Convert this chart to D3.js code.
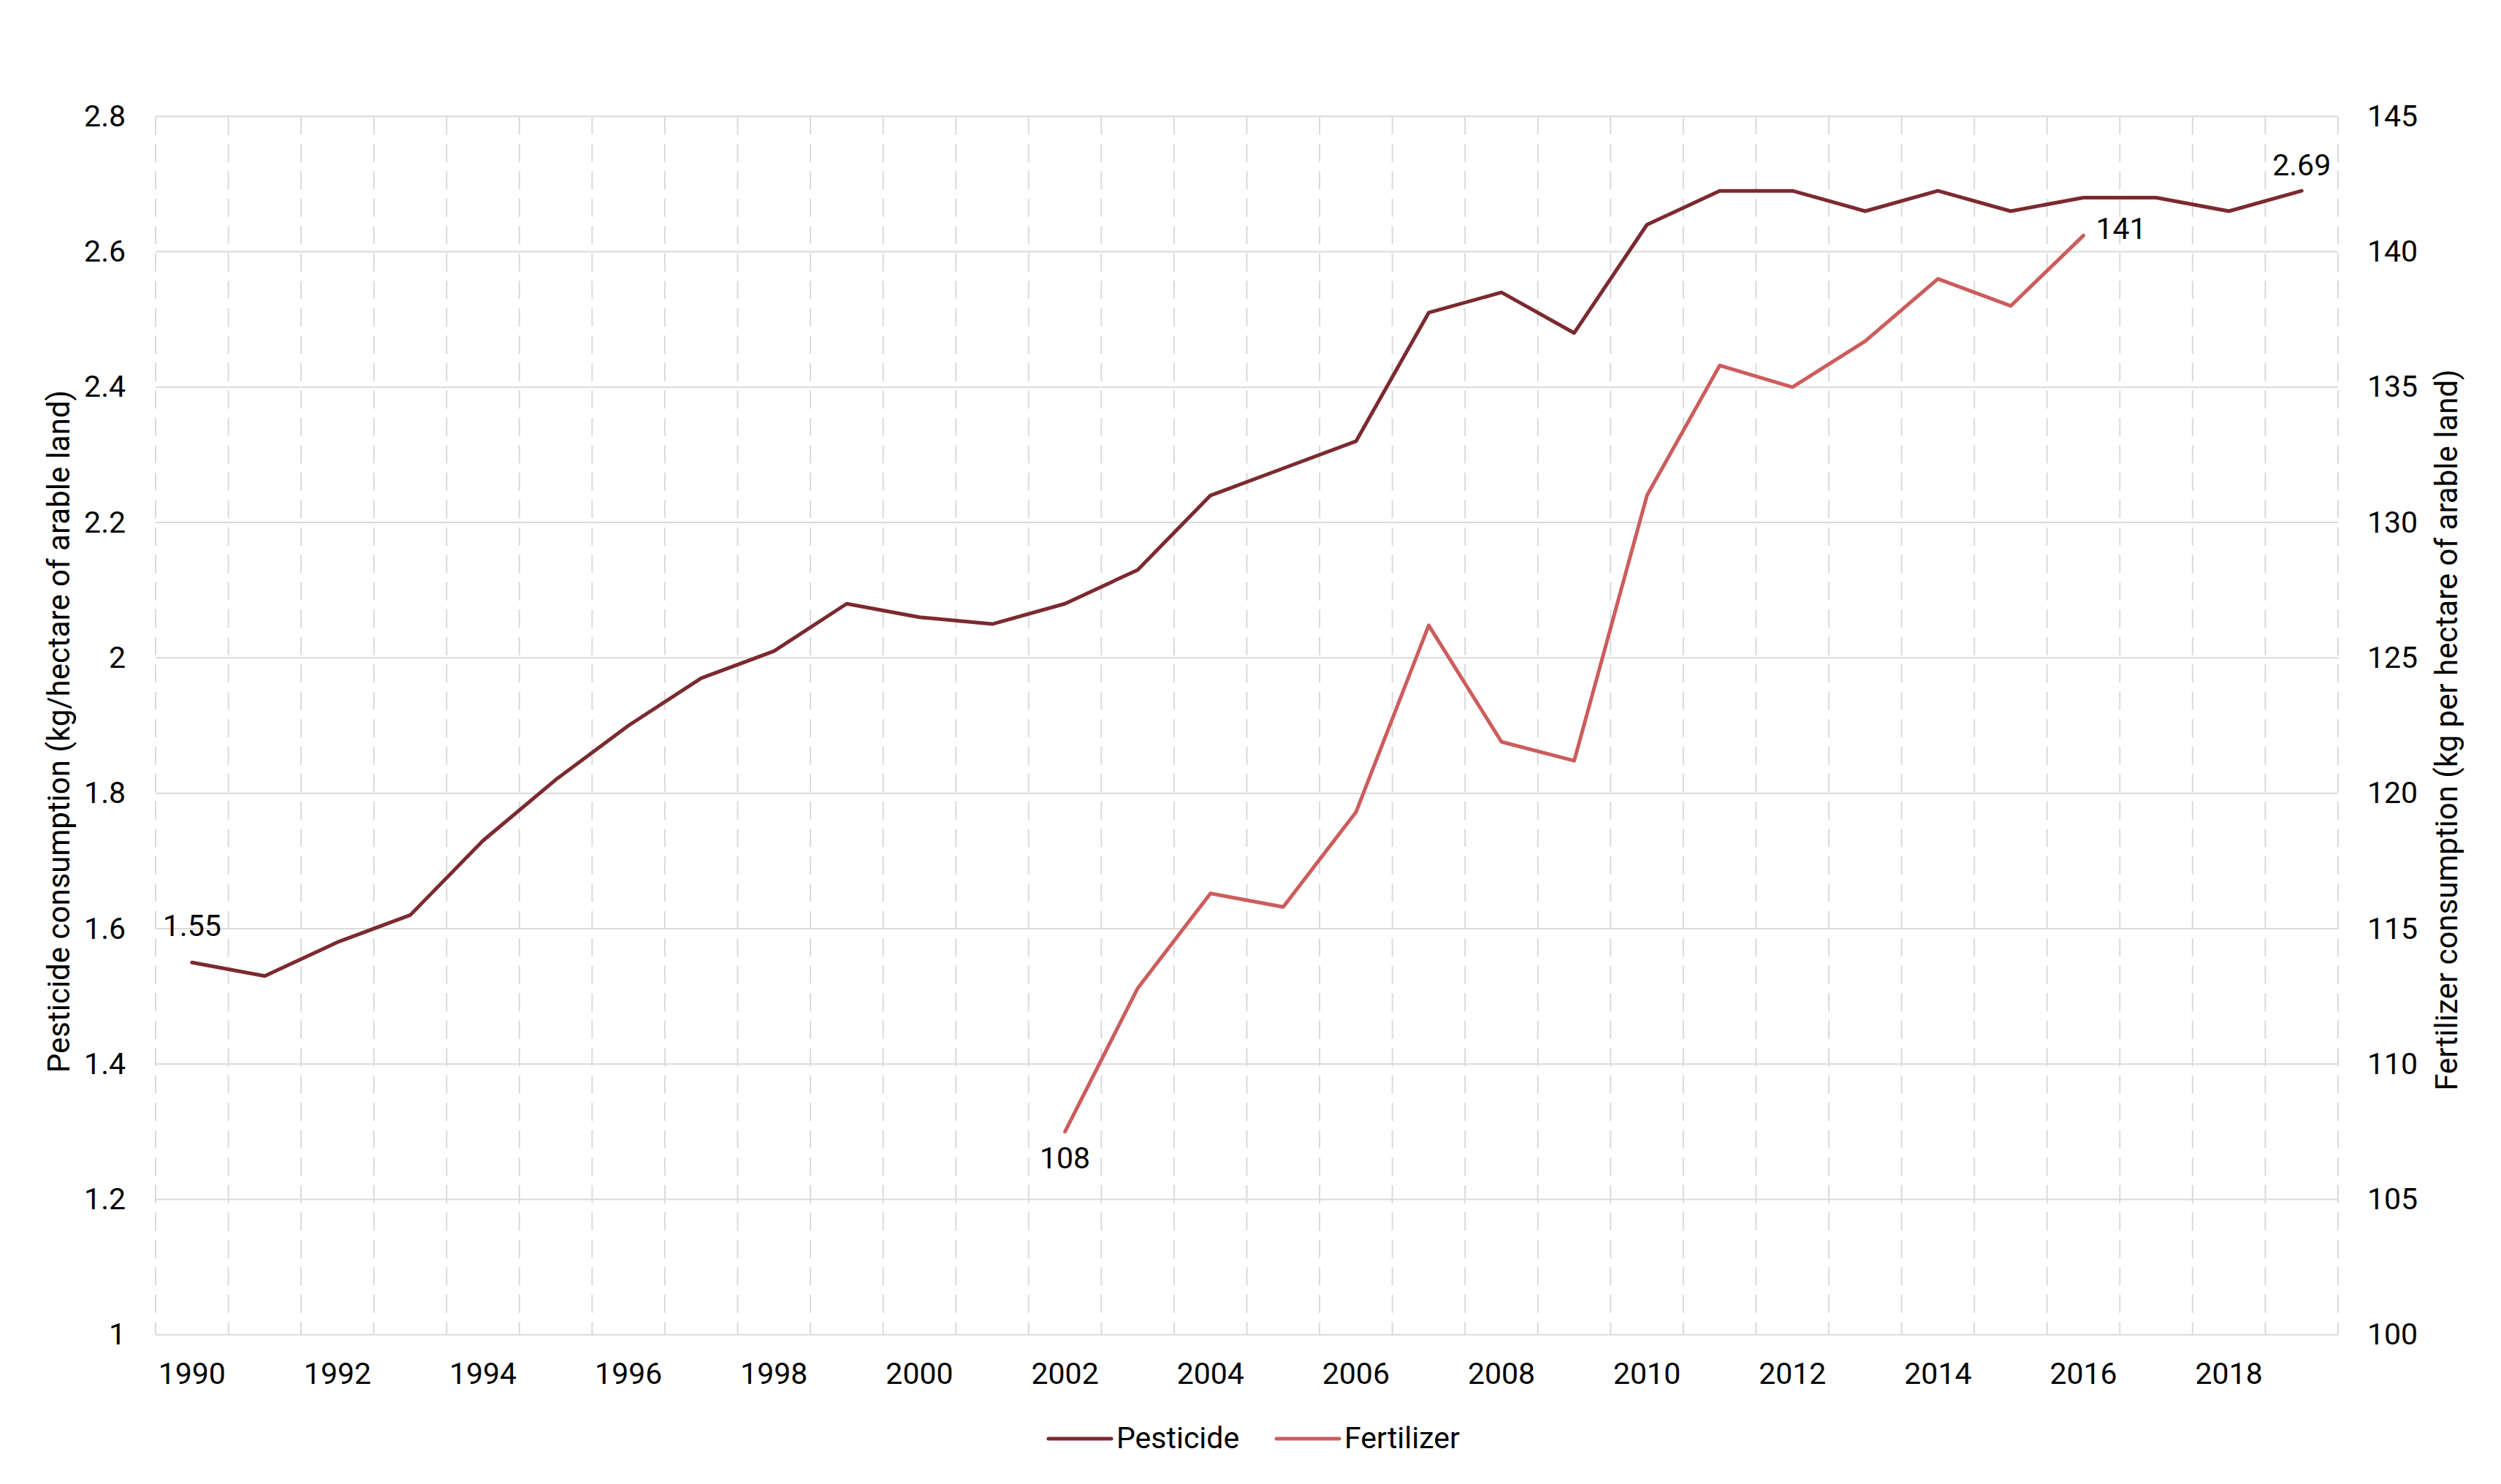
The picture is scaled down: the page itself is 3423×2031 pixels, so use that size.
<!DOCTYPE html>
<html>
<head>
<meta charset="utf-8">
<script src="https://cdn.jsdelivr.net/npm/d3@7"></script>
<style>
  html, body { margin: 0; padding: 0; background: #fff; }
  svg { display: block; font-family: Roboto, "Noto Sans", sans-serif; }
</style>
</head>
<body>
<svg id="chart" width="3423" height="2031"></svg>
<script>
// ---------- data ----------
const years = [1990,1991,1992,1993,1994,1995,1996,1997,1998,1999,2000,2001,2002,2003,2004,2005,2006,2007,2008,2009,2010,2011,2012,2013,2014,2015,2016,2017,2018,2019];
const pesticide = [1.55,1.53,1.58,1.62,1.73,1.82,1.90,1.97,2.01,2.08,2.06,2.05,2.08,2.13,2.24,2.28,2.32,2.51,2.54,2.48,2.64,2.69,2.69,2.66,2.69,2.66,2.68,2.68,2.66,2.69];
const fertilizerYears = [2002,2003,2004,2005,2006,2007,2008,2009,2010,2011,2012,2013,2014,2015,2016];
const fertilizer = [107.5,112.8,116.3,115.8,119.3,126.2,121.9,121.2,131.0,135.8,135.0,136.7,139.0,138.0,140.6];
const xTickLabels = [1990,1992,1994,1996,1998,2000,2002,2004,2006,2008,2010,2012,2014,2016,2018];
const leftTicks = [1,1.2,1.4,1.6,1.8,2,2.2,2.4,2.6,2.8];
const rightTicks = [100,105,110,115,120,125,130,135,140,145];
const seriesNames = ["Pesticide","Fertilizer"];
const leftTitle = "Pesticide consumption (kg/hectare of arable land)";
const rightTitle = "Fertilizer consumption (kg per hectare of arable land)";

// ---------- layout ----------
const W = 3423, H = 2031;
const L = 213, R = 3200, T = 159.3, B = 1826.7;
const colPest = "#7b2a2f", colFert = "#cd5c5c", gridCol = "#dadada";
const fs = 41, fsTitle = 42;

const svg = d3.select("#chart");

const x = d3.scaleBand().domain(years).range([L, R]).padding(0);
const yL = d3.scaleLinear().domain([1, 2.8]).range([B, T]);
const yR = d3.scaleLinear().domain([100, 145]).range([B, T]);
const cx = d => x(d) + x.bandwidth() / 2;

// horizontal grid
svg.append("g").selectAll("line").data(leftTicks).join("line")
  .attr("x1", L).attr("x2", R)
  .attr("y1", d => yL(d)).attr("y2", d => yL(d))
  .attr("stroke", gridCol).attr("stroke-width", 2);

// vertical dashed grid at band boundaries
const bounds = years.map(d => x(d)).concat([R]);
svg.append("g").selectAll("line").data(bounds).join("line")
  .attr("x1", d => d).attr("x2", d => d)
  .attr("y1", T).attr("y2", B)
  .attr("stroke", gridCol).attr("stroke-width", 2)
  .attr("stroke-dasharray", "25,12.5");

// axes
const fmtL = d => String(+d.toFixed(1));
const gL = svg.append("g").attr("transform", `translate(${L},0)`)
  .call(d3.axisLeft(yL).tickValues(leftTicks).tickFormat(fmtL).tickSize(0).tickPadding(41));
const gR = svg.append("g").attr("transform", `translate(${R},0)`)
  .call(d3.axisRight(yR).tickValues(rightTicks).tickSize(0).tickPadding(40));
const gB = svg.append("g").attr("transform", `translate(0,${B})`)
  .call(d3.axisBottom(x).tickValues(xTickLabels).tickSize(0).tickPadding(38));
[gL, gR, gB].forEach(g => {
  g.select(".domain").remove();
  g.selectAll("text").attr("font-size", fs).attr("fill", "#000")
    .attr("font-family", "Roboto, 'Noto Sans', sans-serif");
});

// axis titles
svg.append("text")
  .attr("transform", `translate(80,${(T + B) / 2 + 8}) rotate(-90)`)
  .attr("text-anchor", "middle").attr("dy", "0.35em")
  .attr("font-size", fsTitle).attr("fill", "#000").text(leftTitle);
svg.append("text")
  .attr("transform", `translate(3348,${(T + B) / 2 + 6}) rotate(-90)`)
  .attr("text-anchor", "middle").attr("dy", "0.35em")
  .attr("font-size", fsTitle).attr("fill", "#000").text(rightTitle);

// lines
const lineP = d3.line().x((d, i) => cx(years[i])).y(d => yL(d));
const lineF = d3.line().x((d, i) => cx(fertilizerYears[i])).y(d => yR(d));
svg.append("path").datum(fertilizer).attr("d", lineF)
  .attr("fill", "none").attr("stroke", colFert).attr("stroke-width", 5)
  .attr("stroke-linejoin", "round").attr("stroke-linecap", "round");
svg.append("path").datum(pesticide).attr("d", lineP)
  .attr("fill", "none").attr("stroke", colPest).attr("stroke-width", 5)
  .attr("stroke-linejoin", "round").attr("stroke-linecap", "round");

// data labels
const lab = (px, py, txt, anchor) => svg.append("text")
  .attr("x", px).attr("y", py).attr("text-anchor", anchor)
  .attr("font-size", fs).attr("fill", "#000").text(txt);
lab(cx(years[0]), yL(pesticide[0]) - 36, pesticide[0].toFixed(2), "middle");
lab(cx(years[years.length - 1]), yL(pesticide[pesticide.length - 1]) - 21, pesticide[pesticide.length - 1].toFixed(2), "middle");
lab(cx(fertilizerYears[0]), yR(fertilizer[0]) + 50, Math.round(fertilizer[0]), "middle");
lab(cx(fertilizerYears[fertilizerYears.length - 1]) + 17, yR(fertilizer[fertilizer.length - 1]) + 5, Math.round(fertilizer[fertilizer.length - 1]), "start");

// legend
const legend = [
  { name: seriesNames[0], color: colPest, x0: 1435 },
  { name: seriesNames[1], color: colFert, x0: 1747 }
];
const lg = svg.append("g");
legend.forEach(l => {
  lg.append("line").attr("x1", l.x0).attr("x2", l.x0 + 86)
    .attr("y1", 1969).attr("y2", 1969)
    .attr("stroke", l.color).attr("stroke-width", 5).attr("stroke-linecap", "round");
  lg.append("text").attr("x", l.x0 + 93).attr("y", 1982)
    .attr("font-size", fs).attr("fill", "#000").text(l.name);
});
</script>
</body>
</html>
